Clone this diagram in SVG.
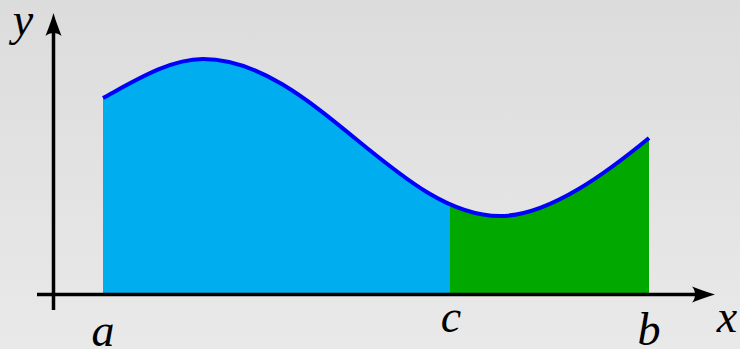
<svg xmlns="http://www.w3.org/2000/svg" width="740" height="349" viewBox="0 0 740 349">
<style>
.lbl{font-family:"Liberation Serif","DejaVu Serif",serif;font-style:italic;font-size:46px;fill:#000;text-anchor:middle}
.axis{stroke:#000;stroke-width:3.5;fill:none}
</style>
<defs>
<linearGradient id="bg" x1="0" y1="0" x2="0" y2="1">
<stop offset="0" stop-color="#dcdcdc"/>
<stop offset="1" stop-color="#e9e9e9"/>
</linearGradient>
<path id="area" d="M103,98 C136,80 170,59 203,59 C312,59 398,216 500,216 C550,216 610,170 649,138 L649,294 L103,294 Z"/>
<clipPath id="left"><rect x="0" y="0" width="450" height="349"/></clipPath>
<clipPath id="right"><rect x="450" y="0" width="290" height="349"/></clipPath>
</defs>
<rect width="740" height="349" fill="url(#bg)"/>
<g id="region-ac"><use href="#area" fill="#00adee" clip-path="url(#left)"/></g>
<g id="region-cb"><use href="#area" fill="#00a800" clip-path="url(#right)"/></g>
<g id="curve"><path d="M103,98 C136,80 170,59 203,59 C312,59 398,216 500,216 C550,216 610,170 649,138" fill="none" stroke="#0000ff" stroke-width="4"/></g>
<g id="connectors">
<line class="axis" x1="37" y1="294.5" x2="700" y2="294.5"/>
<path d="M715,294.5 C706,292 699,289 692,286.5 C696,291 696,298 692,302.5 C699,300 706,297 715,294.5 Z" fill="#000"/>
<line class="axis" x1="53.5" y1="310" x2="53.5" y2="28"/>
<path d="M53.5,13 C51,22 48,29 45.5,36 C50,32 57,32 61.5,36 C59,29 56,22 53.5,13 Z" fill="#000"/>
</g>
<g id="labels">
<text class="lbl" x="23" y="35">y</text>
<text class="lbl" x="103" y="346">a</text>
<text class="lbl" x="451" y="332">c</text>
<text class="lbl" x="649" y="345">b</text>
<text class="lbl" x="727" y="332">x</text>
</g>
</svg>
